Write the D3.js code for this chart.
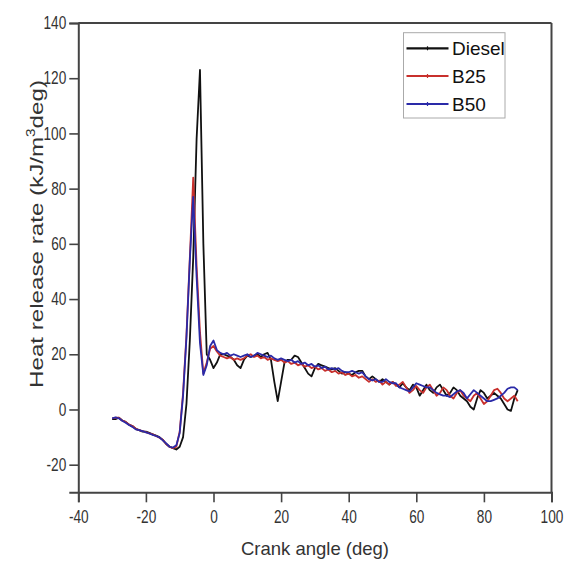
<!DOCTYPE html>
<html><head><meta charset="utf-8">
<script src="https://cdnjs.cloudflare.com/ajax/libs/d3/7.8.5/d3.min.js"></script>
<style>
html,body{margin:0;padding:0;background:#fff;}
svg{display:block;}
.tick text{font-family:"Liberation Sans",Arial,sans-serif;fill:#333;}
</style></head>
<body>
<svg id="chart" width="565" height="563"></svg>
<script>
// ---- data ----
const angles = d3.range(-30, 91, 1);
const diesel = [
 -3.5,-3.5,-3,-4,-4.5,-5.5,-6,-7,-7.5,-8,-8,-8.5,-9,-9.5,-10,-11,-12.5,-13.5,-14,-14.5,
 -13.5,-10,2,25,55,98,123,60,20,18,
 15,17,20,20,19.5,19,18,16,15,18,
 19.5,19,19.5,20,19,20,20.5,18,10,3,
 10,17,18,18,19.5,19,17,15,13,12,
 15,16.5,16,15.5,15,14.5,15,14,13,13.5,
 13,12.5,13.5,14,14,12,11,12,11,10,
 11,10,9,10,9,8,9.5,8,7,9,
 8,5,7,9,7,6,8,9,7,5,
 6,8,7,5,4,3,1,0,4,7,
 6,4,5,6,5,4,2,0,-0.5,4,
 7];
const b25 = [
 -3.2,-3,-3,-4,-4.5,-5.5,-6,-7,-7.5,-7.8,-8.2,-8.7,-9,-9.6,-10.2,-11,-12.5,-13.5,-14,-13.5,
 -8,6,27,55,84,52,28,13,17,22,
 23,21,19.5,19,18.5,19,18,18.5,18,18.5,
 19.5,20,19,19.5,18.5,19,18,18.5,18,17.5,
 18,17,17.5,16.5,17,16,16.5,15.5,16,15,
 15.5,14.5,15,14,14.5,13.5,14,13,13.5,12.5,
 13,12,12.5,11.5,12,11,10,11,10,10.5,
 9,10,9,10,8.5,9,10,8,6,7,
 8.5,7,6,8,9,7,5,6,8,7,
 5,4,6,7,5,4,3,5,6,4,
 2,3,5,7,7.5,6,4,3,4,5,
 3];
const b50 = [
 -3.2,-2.9,-3.2,-4.1,-4.8,-5.6,-6.3,-7.2,-7.5,-7.8,-8.3,-8.7,-9.2,-9.6,-10.1,-11.2,-12.3,-13.5,-13.8,-13,
 -8.5,5,26,54,77,48,24,12.5,16,23,
 25,21.5,20.5,20,20.5,19.5,20,19.5,19,19.5,
 20,19,19.5,20.5,20,19.5,19,19.5,18.5,18,
 18.5,18,17.5,18,17,17.5,16.5,17,16,16.5,
 15.5,16,15,15.5,14.5,15,14.5,15,14,13.5,
 13.5,14,13.5,13,13.5,12,11,10.5,11,10,
 10,11,10,9.5,9.5,8,7.5,7,6.5,8,
 9.5,9,8.5,8,8,7,6,5.5,5,5,
 4.5,5.5,6.5,7,6,4,5.5,7,6,5,
 4,3,3,3.5,4,5,6,7.5,8,8,
 7];
const seriesNames = ["Diesel", "B25", "B50"];
const seriesColors = ["#111111", "#c8302c", "#2a2aa8"];
const xTicks = [-40, -20, 0, 20, 40, 60, 80, 100];
const yTicks = [-20, 0, 20, 40, 60, 80, 100, 120, 140];
const xLabel = "Crank angle (deg)";

// ---- layout ----
const svg = d3.select("#chart");
const L = 78.3, R = 551.5, T = 23, B = 492.3;
const x = d3.scaleLinear().domain([-40, 100]).range([L, R]);
const y = d3.scaleLinear().domain([-30, 140]).range([B, T]);
const axisColor = "#444";
const squeeze = 0.78;

// frame (top & right)
svg.append("line").attr("x1", L).attr("x2", R).attr("y1", T).attr("y2", T)
  .attr("stroke", axisColor).attr("stroke-width", 2);
svg.append("line").attr("x1", R).attr("x2", R).attr("y1", T).attr("y2", B)
  .attr("stroke", axisColor).attr("stroke-width", 2);

const xAxis = svg.append("g").attr("transform", `translate(0,${B})`)
  .call(d3.axisBottom(x).tickValues(xTicks).tickSize(10).tickPadding(8).tickFormat(d => String(d)));
xAxis.selectAll("text").attr("font-size", 17.5).attr("transform", `scale(${squeeze},1)`);
const yAxis = svg.append("g").attr("transform", `translate(${L},0)`)
  .call(d3.axisLeft(y).tickValues(yTicks).tickSize(9).tickPadding(3).tickFormat(d => String(d)));
yAxis.selectAll("text").attr("font-size", 17.5).attr("x", -12 / squeeze)
  .attr("transform", `scale(${squeeze},1)`);
[xAxis, yAxis].forEach(g => {
  g.select(".domain").attr("stroke", axisColor).attr("stroke-width", 2);
  g.selectAll(".tick line").attr("stroke", axisColor).attr("stroke-width", 1.6);
  g.selectAll("text").attr("fill", "#333");
});

// ---- lines ----
const allSeries = [diesel, b25, b50];
const line = d3.line().x((d, i) => x(angles[i])).y(d => y(d));
allSeries.forEach((s, k) => {
  svg.append("path").datum(s).attr("d", line)
    .attr("fill", "none").attr("stroke", seriesColors[k])
    .attr("stroke-width", 1.8).attr("stroke-linejoin", "round");
});

// ---- legend ----
const lg = svg.append("g");
lg.append("rect").attr("x", 403.5).attr("y", 32.7).attr("width", 101.5).attr("height", 85.3)
  .attr("fill", "#fff").attr("stroke", "#aaa").attr("stroke-width", 1);
const rowY = [48.3, 76, 104];
seriesNames.forEach((n, k) => {
  lg.append("line").attr("x1", 406.5).attr("x2", 448.5).attr("y1", rowY[k]).attr("y2", rowY[k])
    .attr("stroke", seriesColors[k]).attr("stroke-width", 2.2);
  lg.append("line").attr("x1", 427.5).attr("x2", 427.5).attr("y1", rowY[k] - 2).attr("y2", rowY[k] + 2)
    .attr("stroke", seriesColors[k]).attr("stroke-width", 1.2);
  lg.append("text").attr("x", 452).attr("y", rowY[k] + 7)
    .attr("font-family", "Liberation Sans, Arial, sans-serif").attr("font-size", 19)
    .attr("fill", "#111").text(n);
});

// ---- axis titles ----
svg.append("text").attr("x", 315).attr("y", 555).attr("text-anchor", "middle")
  .attr("font-family", "Liberation Sans, Arial, sans-serif").attr("font-size", 18.5)
  .attr("fill", "#333").text(xLabel);
const yt = svg.append("text").attr("transform", "translate(43,234) rotate(-90)")
  .attr("text-anchor", "middle")
  .attr("font-family", "Liberation Sans, Arial, sans-serif").attr("font-size", 19)
  .attr("fill", "#333")
  .attr("textLength", 308).attr("lengthAdjust", "spacingAndGlyphs");
yt.append("tspan").text("Heat release rate (kJ/m");
yt.append("tspan").attr("font-size", 12).attr("dy", -8).text("3");
yt.append("tspan").attr("dy", 8).text("deg)");
</script>
</body></html>
